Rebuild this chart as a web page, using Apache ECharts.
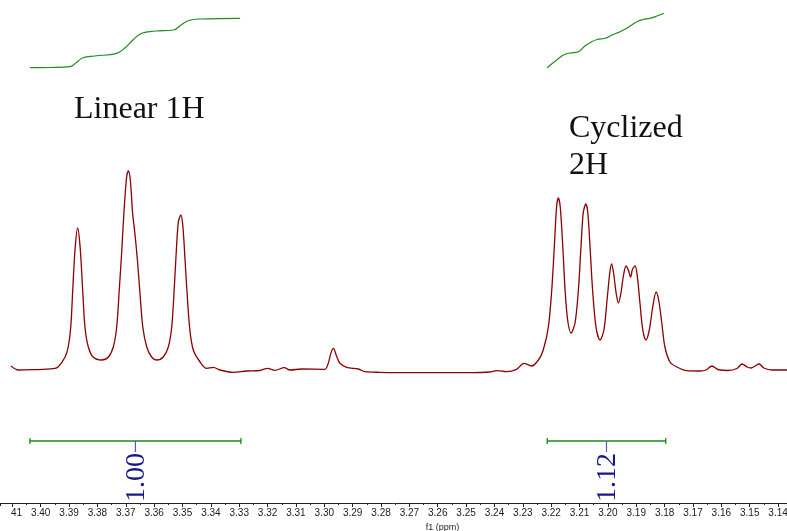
<!DOCTYPE html>
<html><head><meta charset="utf-8">
<script src="https://cdn.jsdelivr.net/npm/echarts@6/dist/echarts.min.js"></script>
<style>html,body{margin:0;padding:0;background:#fff}#c{width:787px;height:531px}</style>
</head><body><div id="c"></div>
<script>
// ---- data ----
const spectrumPpm = [3.4105,3.4079,3.4026,3.3956,3.3938,3.3914,3.3903,3.3894,3.3887,3.3879,3.3870,3.3861,3.3852,3.3844,3.3832,3.3815,3.3785,3.3762,3.3744,3.3732,3.3723,3.3714,3.3706,3.3697,3.3691,3.3684,3.3676,3.3668,3.3659,3.3650,3.3640,3.3626,3.3609,3.3591,3.3568,3.3550,3.3538,3.3530,3.3523,3.3515,3.3506,3.3499,3.3491,3.3483,3.3474,3.3462,3.3438,3.3415,3.3391,3.3368,3.3321,3.3274,3.3227,3.3200,3.3174,3.3141,3.3121,3.3080,3.2998,3.2986,3.2977,3.2968,3.2956,3.2945,3.2921,3.2880,3.2857,3.2804,3.2709,3.2592,3.2475,3.2416,3.2392,3.2357,3.2322,3.2296,3.2269,3.2245,3.2228,3.2210,3.2198,3.2189,3.2181,3.2175,3.2168,3.2159,3.2151,3.2142,3.2130,3.2116,3.2104,3.2095,3.2087,3.2078,3.2071,3.2063,3.2054,3.2042,3.2028,3.2014,3.2002,3.1993,3.1987,3.1980,3.1971,3.1963,3.1954,3.1946,3.1936,3.1928,3.1920,3.1913,3.1904,3.1896,3.1887,3.1877,3.1866,3.1854,3.1842,3.1830,3.1821,3.1810,3.1799,3.1781,3.1757,3.1722,3.1675,3.1654,3.1633,3.1612,3.1577,3.1545,3.1527,3.1509,3.1495,3.1481,3.1467,3.1450,3.1421,3.1368];
const spectrumIntensity = [6,2,2.3,3.3,5.3,15,25,45,82,122,144,125,82,45,25,15,12,14.7,25,45,82,122,162,195,201,192,159,139,112,79,45,25,15,12,15,25,45,79,115,149,157,147,112,75,42,22,10,3.7,4.7,2,-0.3,1,1.5,3.7,1.7,4.3,2,3,2.7,8.7,18.7,23.7,15.3,8.7,4.7,3,0.3,-0.3,-0.7,-0.7,-0.7,0,1.3,0.3,2.7,8.7,6,12,22,45,82,125,165,174,165,125,82,52,39,49,82,125,159,168,160,125,82,45,32,42,75,100,108,99,79,69,79,95,106,102,95,103,106,95,69,42,32,42,65,80,72,49,25,10,5,1.3,1,2,6,2.5,1.5,3.5,8,5,4,6,8,4,2,2];

const integral1Ppm = [3.4038,3.3967,3.3897,3.3876,3.3851,3.3809,3.3732,3.3703,3.3675,3.3644,3.3597,3.3532,3.3505,3.3480,3.3438,3.3297];
const integral1Value = [304.3,304.5,305.3,309,314.3,316,318.7,324,332,338.7,341,342,347,351.3,353,353.7];
const integral2Ppm = [3.2214,3.2194,3.2176,3.2157,3.2134,3.2104,3.2081,3.2057,3.2038,3.2010,3.1985,3.1957,3.1929,3.1898,3.1876,3.1852,3.1827,3.1802];
const integral2Value = [304.3,309,313,317,319,320.3,326,330.3,332.5,333.7,337,340.3,344.5,350.3,352.5,353.7,356,358.7];

const integralStart = [3.4038, 3.2214];
const integralEnd = [3.3294, 3.1796];
const integralLabels = ['1.00', '1.12'];

const annotationTexts = ['Linear 1H', 'Cyclized', '2H'];
const xAxisName = 'f1 (ppm)';

// ---- layout ----
const X_MIN = 3.13685, X_MAX = 3.41435;
const Y_MIN = -131, Y_MAX = 372;
const INTEGRAL_LEVEL = -69;

const zip = (a, b) => a.map((v, i) => [v, b[i]]);

function renderIntegral(params, api) {
  const s = api.value(0), e = api.value(1);
  const p1 = api.coord([s, INTEGRAL_LEVEL]);
  const p2 = api.coord([e, INTEGRAL_LEVEL]);
  const y = p1[1];
  const cx = (p1[0] + p2[0]) / 2;
  const axisY = api.coord([s, Y_MIN])[1];
  const green = {stroke: '#1a8a1a', lineWidth: 1.3};
  return {
    type: 'group',
    children: [
      {type: 'line', shape: {x1: p1[0], y1: y, x2: p2[0], y2: y}, style: green},
      {type: 'line', shape: {x1: p1[0], y1: y - 3, x2: p1[0], y2: y + 3}, style: green},
      {type: 'line', shape: {x1: p2[0], y1: y - 3, x2: p2[0], y2: y + 3}, style: green},
      {type: 'line', shape: {x1: cx, y1: y, x2: cx, y2: y + 11}, style: {stroke: '#5a5aa8', lineWidth: 1.2}},
      {type: 'text', x: cx + 1, y: axisY - 1, rotation: Math.PI / 2,
        style: {text: integralLabels[params.dataIndex], font: '28px "Liberation Serif"', fill: '#14148c', align: 'left', verticalAlign: 'middle'}}
    ]
  };
}

const chart = echarts.init(document.getElementById('c'), null, {renderer: 'canvas'});
chart.setOption({
  animation: false,
  backgroundColor: '#fff',
  grid: {left: 0, right: 0, top: 0, bottom: 28, containLabel: false, outerBoundsMode: 'none'},
  xAxis: {
    type: 'value', inverse: true, min: X_MIN, max: X_MAX,
    minInterval: 0.01, maxInterval: 0.01, splitNumber: 28,
    axisLine: {onZero: false, lineStyle: {color: '#222', width: 1}},
    axisTick: {length: 4, lineStyle: {color: '#222'}},
    minorTick: {show: true, splitNumber: 2, length: 2, lineStyle: {color: '#222'}},
    splitLine: {show: false}, minorSplitLine: {show: false},
    axisLabel: {
      formatter: v => Math.abs(v * 100 - Math.round(v * 100)) < 1e-6 ? v.toFixed(2) : '',
      fontSize: 10, color: '#1a1a1a', margin: 5, fontFamily: 'Liberation Sans', hideOverlap: false
    },
    name: xAxisName, nameLocation: 'middle', nameGap: 17,
    nameTextStyle: {fontSize: 9, color: '#222', fontFamily: 'Liberation Sans', padding: [0, 0, 0, 98]}
  },
  yAxis: {type: 'value', min: Y_MIN, max: Y_MAX, show: false},
  series: [
    {type: 'line', data: zip(spectrumPpm, spectrumIntensity), showSymbol: false, smooth: 0.3, clip: false,
      lineStyle: {color: '#8b0000', width: 1.3}},
    {type: 'line', data: zip(integral1Ppm, integral1Value), showSymbol: false, smooth: 0.4,
      lineStyle: {color: '#1e8c1e', width: 1.2}},
    {type: 'line', data: zip(integral2Ppm, integral2Value), showSymbol: false, smooth: 0.4,
      lineStyle: {color: '#1e8c1e', width: 1.2}},
    {type: 'custom', renderItem: renderIntegral, clip: false,
      data: integralStart.map((s, i) => [s, integralEnd[i]])}
  ],
  graphic: [
    {type: 'text', x: 74, y: 110, style: {text: annotationTexts[0], font: '32px "Liberation Serif"', fill: '#111', align: 'left', verticalAlign: 'middle'}},
    {type: 'text', x: 569, y: 129, style: {text: annotationTexts[1], font: '32px "Liberation Serif"', fill: '#111', align: 'left', verticalAlign: 'middle'}},
    {type: 'text', x: 569, y: 166, style: {text: annotationTexts[2], font: '32px "Liberation Serif"', fill: '#111', align: 'left', verticalAlign: 'middle'}},
    {type: 'rect', z: 100, shape: {x: 0, y: 506, width: 10.5, height: 14}, style: {fill: '#fff'}}
  ]
});
</script></body></html>
